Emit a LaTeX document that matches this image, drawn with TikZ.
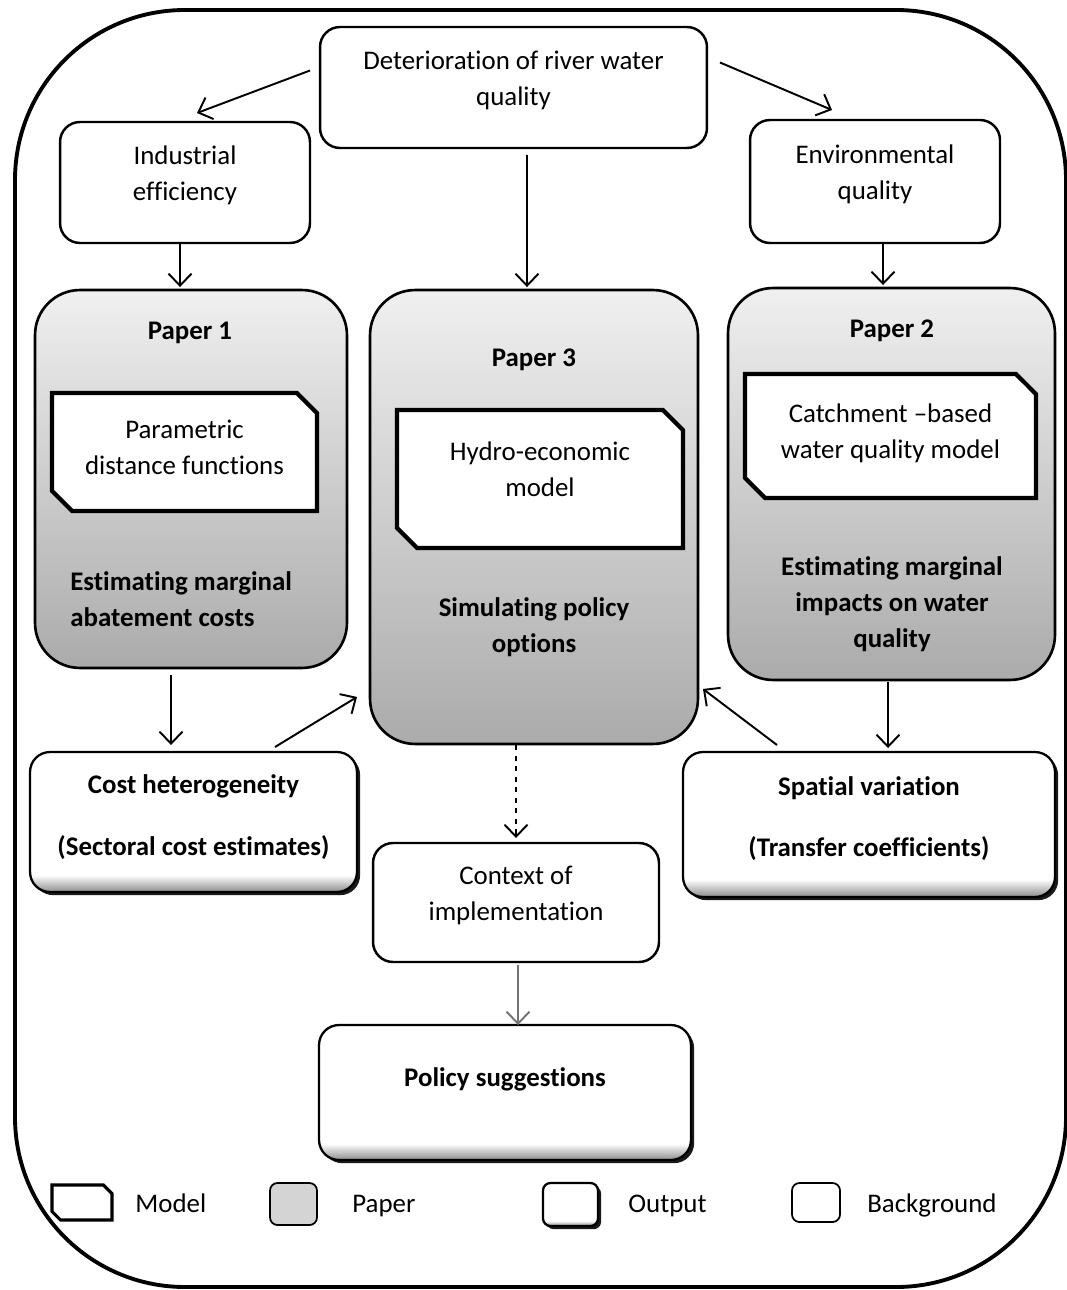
\documentclass[tikz,border=0pt]{standalone}
\usepackage{fontspec}
\setmainfont{Carlito}[Ligatures={NoCommon}]
\usetikzlibrary{arrows.meta,shapes.misc,shadows}

% shading for the output boxes: white with a grey foot
\pgfdeclareverticalshading{outshade}{100bp}{color(0bp)=(black!45); color(25bp)=(black!45); color(31bp)=(white); color(100bp)=(white)}

\tikzset{
  bgbox/.style={draw, line width=1.4pt, rounded corners=0.4cm, fill=white, align=center, inner sep=2pt, outer sep=0pt, text depth=11pt},
  paperbox/.style={draw, line width=1.5pt, rounded corners=0.9cm, top color=black!6, bottom color=black!33, outer sep=0pt},
  modelbox/.style={chamfered rectangle, chamfered rectangle corners={north east,south west},
    chamfered rectangle xsep=0.2cm, chamfered rectangle ysep=0.2cm,
    draw, line width=2.4pt, fill=white, align=center, inner sep=2pt, outer sep=0pt, text depth=5pt},
  outbox/.style={draw, line width=1.3pt, rounded corners=0.4cm, shading=outshade, align=center, inner sep=2pt, outer sep=0pt,
    drop shadow={shadow xshift=1.8pt, shadow yshift=-1.8pt, opacity=0.9, fill=black}},
  papertext/.style={font=\bfseries, align=center},
  legendtext/.style={anchor=base west, inner sep=0pt},
  flow/.style={->, line width=1.1pt}
}

\begin{document}
\fontsize{15.3}{20.5}\selectfont
\begin{tikzpicture}[x=0.02cm, y=-0.02cm, >={Straight Barb[length=2.4mm,width=4.6mm]}]
        \useasboundingbox (0,0) rectangle (1067,1290);

        % Frame
        \draw[line width=2.2pt, rounded corners=3.4cm] (15,10) rectangle (1066,1287);

        % Background
        \node[bgbox, minimum width=7.74cm, minimum height=2.42cm] (det) at (513.5,87.5) {Deterioration of river water\\quality};
        \node[bgbox, minimum width=5cm, minimum height=2.42cm] (ind) at (185,182.5) {Industrial\\efficiency};
        \node[bgbox, minimum width=5cm, minimum height=2.46cm] (env) at (875,181.5) {Environmental\\quality};

        % Papers
        \node[paperbox, minimum width=6.24cm, minimum height=7.56cm] (p1) at (191,479) {};
        \node[paperbox, minimum width=6.56cm, minimum height=9.08cm] (p3) at (534,517) {};
        \node[paperbox, minimum width=6.54cm, minimum height=7.84cm] (p2) at (891.5,484) {};
        \node[papertext] (p1title) at (190,333) {Paper 1};
        \node[papertext] (p3title) at (534,360) {Paper 3};
        \node[papertext] (p2title) at (892,331) {Paper 2};
        \node[papertext, anchor=west, align=left, inner sep=0pt] (p1text) at (70,599) {Estimating marginal\\abatement costs};
        \node[papertext] (p3text) at (534,627) {Simulating policy\\options};
        \node[papertext] (p2text) at (892,604) {Estimating marginal\\impacts on water\\quality};

        % Models
        \node[modelbox, minimum width=5.3cm, minimum height=2.36cm] (m1) at (184.5,452) {Parametric\\distance functions};
        \node[modelbox, minimum width=5.72cm, minimum height=2.76cm, text depth=11pt] (m3) at (540,479) {Hydro-economic\\model};
        \node[modelbox, minimum width=5.82cm, minimum height=2.48cm] (m2) at (890.5,436) {Catchment --based\\water quality model};

        % Outputs
        \node[outbox, font=\bfseries, minimum width=6.54cm, minimum height=2.8cm, text depth=8pt] (cost) at (193.5,822) {Cost heterogeneity\\[14.5pt](Sectoral cost estimates)};
        \node[outbox, font=\bfseries, minimum width=7.44cm, minimum height=2.9cm, text depth=9pt] (spat) at (869,824.5) {Spatial variation\\[14.5pt](Transfer coefficients)};
        \node[bgbox, minimum width=5.72cm, minimum height=2.38cm] (ctx) at (516,902.5) {Context of\\implementation};
        \node[outbox, font=\bfseries, minimum width=7.44cm, minimum height=2.7cm] (pol) at (505,1092.5) {\raisebox{0.6cm}{Policy suggestions}};

        % Connections
        \draw[flow] ([shift={(-10,-17)}]det.west) -- ([shift={(12,-9)}]ind.north);
        \draw[flow] ([shift={(13,-25)}]det.east) -- ([shift={(-43,-10)}]env.north);
        \draw[flow] ([shift={(13.5,7)}]det.south) -- ([shift={(-7,-3)}]p3.north);
        \draw[flow] ([shift={(-5,0)}]ind.south) -- ([shift={(-11,-3)}]p1.north);
        \draw[flow] ([shift={(8,0)}]env.south) -- ([shift={(-8.5,-3)}]p2.north);
        \draw[flow] ([shift={(-20,7)}]p1.south) -- ([shift={(-22.5,-7)}]cost.north);
        \draw[flow] ([shift={(81.5,-5)}]cost.north) -- ([shift={(-13,-47)}]p3.south west);
        \draw[flow] ([shift={(-92,-7)}]spat.north) -- ([shift={(5,-55)}]p3.south east);
        \draw[flow] ([shift={(-3.5,2)}]p2.south) -- ([shift={(19,-4)}]spat.north);
        \draw[flow, dashed] ([shift={(-18,1)}]p3.south) -- ([shift={(0,-5)}]ctx.north);
        \draw[flow, black!55] ([shift={(2,3)}]ctx.south) -- ([shift={(13,0)}]pol.north);

        % Legend
        \node[modelbox, line width=1.8pt, chamfered rectangle xsep=0.1cm, chamfered rectangle ysep=0.1cm, minimum width=1.2cm, minimum height=0.7cm] (lm) at (82,1202.5) {};
        \node[legendtext] (lmtext) at (135,1212) {Model};
        \node[draw, line width=1pt, rounded corners=0.15cm, fill=black!17, minimum width=0.94cm, minimum height=0.84cm] (lp) at (293.5,1204) {};
        \node[legendtext] (lptext) at (352,1212) {Paper};
        \node[outbox, rounded corners=0.15cm, minimum width=1.1cm, minimum height=0.86cm] (lo) at (570.5,1204.5) {};
        \node[legendtext] (lotext) at (628,1212) {Output};
        \node[draw, line width=1pt, rounded corners=0.15cm, minimum width=0.96cm, minimum height=0.78cm] (lb) at (816,1202.5) {};
        \node[legendtext] (lbtext) at (867,1212) {Background};
    \end{tikzpicture}
\end{document}
